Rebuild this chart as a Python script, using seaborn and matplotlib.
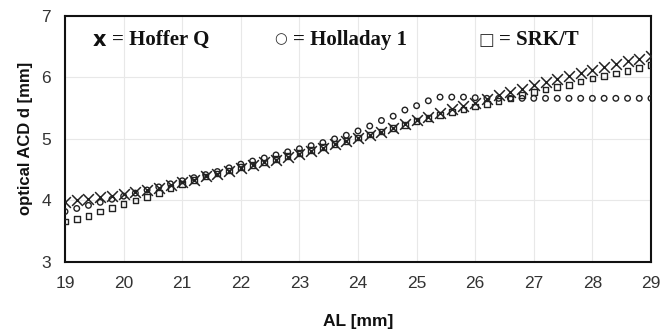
import numpy as np
import pandas as pd
import matplotlib
matplotlib.use("Agg")
import matplotlib.pyplot as plt
import seaborn as sns

al = [round(19 + 0.2 * i, 1) for i in range(51)]

hoffer_q = [3.98, 4.00, 4.03, 4.05, 4.08, 4.11, 4.14, 4.17, 4.21, 4.25,
            4.30, 4.34, 4.39, 4.43, 4.48, 4.53, 4.57, 4.62, 4.66, 4.71,
            4.76, 4.81, 4.86, 4.91, 4.96, 5.01, 5.07, 5.12, 5.18, 5.24,
            5.30, 5.36, 5.42, 5.48, 5.54, 5.59, 5.65, 5.71, 5.76, 5.81,
            5.87, 5.92, 5.97, 6.02, 6.07, 6.12, 6.17, 6.21, 6.26, 6.30, 6.34]

holladay_1 = [3.82, 3.87, 3.92, 3.97, 4.02, 4.07, 4.12, 4.17, 4.22, 4.27,
              4.32, 4.37, 4.42, 4.47, 4.53, 4.59, 4.64, 4.69, 4.74, 4.79,
              4.84, 4.89, 4.94, 5.00, 5.06, 5.13, 5.21, 5.30, 5.37, 5.47,
              5.54, 5.62, 5.68, 5.68, 5.68, 5.67, 5.66, 5.66, 5.66, 5.66,
              5.66, 5.66, 5.66, 5.66, 5.66, 5.66, 5.66, 5.66, 5.66, 5.66, 5.66]

srk_t = [3.66, 3.70, 3.75, 3.82, 3.88, 3.94, 4.00, 4.06, 4.12, 4.20,
         4.27, 4.33, 4.39, 4.44, 4.49, 4.54, 4.58, 4.62, 4.67, 4.72,
         4.77, 4.82, 4.87, 4.92, 4.97, 5.02, 5.07, 5.12, 5.18, 5.23,
         5.29, 5.34, 5.39, 5.44, 5.48, 5.53, 5.57, 5.62, 5.66, 5.71,
         5.76, 5.80, 5.84, 5.88, 5.93, 5.98, 6.02, 6.06, 6.10, 6.15, 6.20]

x_ticks = [19, 20, 21, 22, 23, 24, 25, 26, 27, 28, 29]
y_ticks = [3, 4, 5, 6, 7]

df = pd.DataFrame({"AL": al, "Hoffer Q": hoffer_q, "Holladay 1": holladay_1, "SRK/T": srk_t})

sns.set_theme(style="whitegrid")
plt.rcParams['font.family'] = ['Liberation Sans', 'DejaVu Sans']

fig = plt.figure(figsize=(6.67, 3.31), dpi=100)
ax = fig.add_axes([0.0975, 0.2085, 0.8785, 0.7435])

sns.scatterplot(data=df, x="AL", y="Holladay 1", ax=ax, marker="o", s=16,
                facecolor="none", edgecolor="#222222", linewidth=1.0, zorder=3)
sns.scatterplot(data=df, x="AL", y="SRK/T", ax=ax, marker="s", s=16,
                facecolor="none", edgecolor="#222222", linewidth=1.0, zorder=3)
sns.scatterplot(data=df, x="AL", y="Hoffer Q", ax=ax, marker="x", s=60,
                color="#222222", linewidth=1.1, zorder=4)

ax.set_xlim(19, 29)
ax.set_ylim(3, 7)
ax.set_xticks(x_ticks)
ax.set_yticks(y_ticks)
ax.set_xticklabels([str(t) for t in x_ticks])
ax.set_yticklabels([str(t) for t in y_ticks])
ax.tick_params(axis='both', labelsize=12.5, labelcolor='#333333', length=4, width=0.8,
               direction='out', pad=6, color='#bbbbbb')
ax.grid(True, color='#e8e8e8', linewidth=0.8)
ax.set_axisbelow(True)
for sp in ax.spines.values():
    sp.set_visible(True)
    sp.set_color('#111111')
    sp.set_linewidth(1.5)

ax.set_xlabel("AL [mm]", fontsize=12.5, fontweight='bold', color='#111111', labelpad=17)
ax.set_ylabel("optical ACD d [mm]", fontsize=12, fontweight='bold', color='#111111', labelpad=6)

def px(x, y):
    return (x / 667.0, 1 - y / 331.0)

serif = dict(family='Liberation Serif', fontweight='bold', fontsize=15, color='#111111', va='center')
fig.text(*px(93, 40), "x", family='DejaVu Sans', fontweight='bold', fontsize=15, color='#111111', va='center')
fig.text(*px(112, 40), "= Hoffer Q", **serif)
fig.text(*px(274, 39), "\u25cb", family='DejaVu Sans', fontsize=10.5, color='#333333', va='center')
fig.text(*px(293, 40), "= Holladay 1", **serif)
fig.text(*px(478, 40), "\u25a1", family='DejaVu Sans', fontsize=12, color='#333333', va='center')
fig.text(*px(499, 40), "= SRK/T", **serif)

fig.savefig("out.png", dpi=100)
